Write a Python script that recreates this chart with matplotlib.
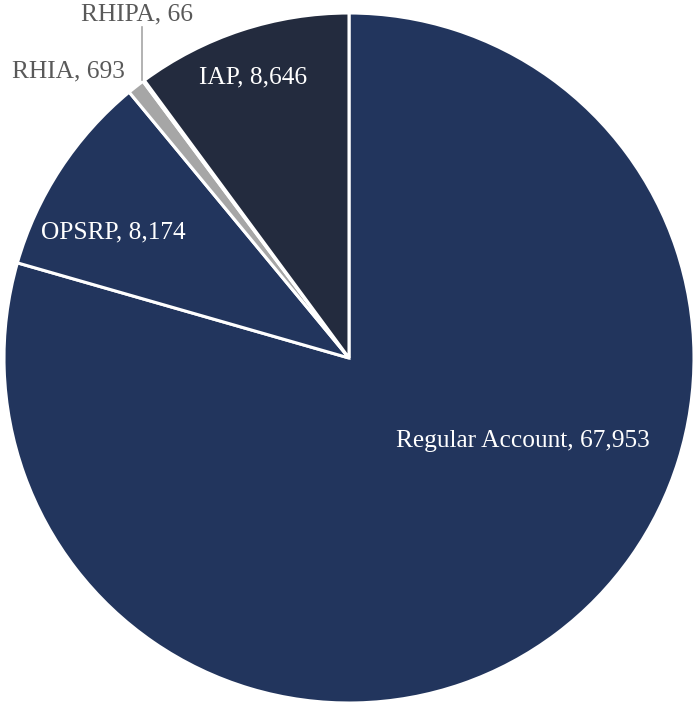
import matplotlib
matplotlib.use("Agg")
import matplotlib.pyplot as plt

labels = ["Regular Account", "OPSRP", "RHIA", "RHIPA", "IAP"]
values = [67953, 8174, 693, 66, 8646]
colors = ["#22355d", "#22355d", "#a6a6a6", "#f2f2f2", "#232b3e"]

W, H = 697, 709
fig = plt.figure(figsize=(W / 100, H / 100), dpi=100)
ax = fig.add_axes([0, 0, 1, 1])

cx, cy, R = 349, H - 358, 345
ax.pie(values, colors=colors, startangle=90, counterclock=False,
       center=(cx, cy), radius=R, frame=True,
       wedgeprops=dict(edgecolor="white", linewidth=2.2))
ax.set_xlim(0, W)
ax.set_ylim(0, H)
ax.set_aspect("equal")
ax.axis("off")

font = ["Liberation Serif", "DejaVu Serif"]
fs = 18.3

def lab(i):
    return f"{labels[i]}, {values[i]:,}"

ax.text(523, H - 441, lab(0), color="white", fontsize=fs, family=font,
        ha="center", va="center")
ax.text(113, H - 232, lab(1), color="white", fontsize=fs, family=font,
        ha="center", va="center")
ax.text(253, H - 77, lab(4), color="white", fontsize=fs, family=font,
        ha="center", va="center")
ax.text(68, H - 71, lab(2), color="#595959", fontsize=fs, family=font,
        ha="center", va="center")
ax.text(137, H - 14, lab(3), color="#595959", fontsize=fs, family=font,
        ha="center", va="center")
ax.plot([142, 142], [H - 27, H - 80], color="#a6a6a6", lw=1.2)

fig.savefig("out.png", dpi=100, facecolor="white")
